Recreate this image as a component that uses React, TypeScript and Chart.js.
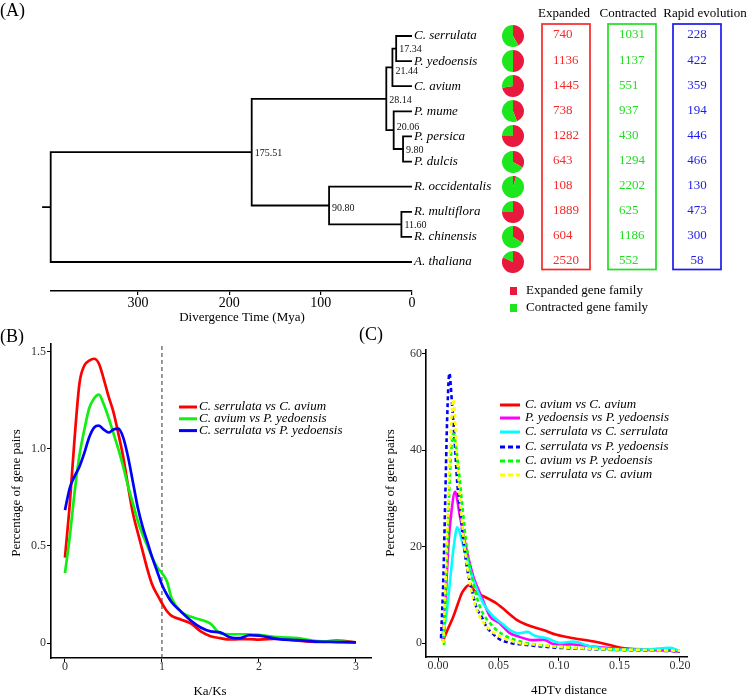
import React, { useEffect, useRef } from 'react';
import { Chart, registerables } from 'chart.js';

Chart.register(...registerables);

const SERIF = "'Liberation Serif', 'Times New Roman', serif";
Chart.defaults.font.family = SERIF;

// ---------------- Panel A data ----------------
const species = ['C. serrulata', 'P. yedoensis', 'C. avium', 'P. mume', 'P. persica', 'P. dulcis', 'R. occidentalis', 'R. multiflora', 'R. chinensis', 'A. thaliana'];
const expanded = [740, 1136, 1445, 738, 1282, 643, 108, 1889, 604, 2520];
const contracted = [1031, 1137, 551, 937, 430, 1294, 2202, 625, 1186, 552];
const rapidEvolution = [228, 422, 359, 194, 446, 466, 130, 473, 300, 58];
const tableHeaders = ['Expanded', 'Contracted', 'Rapid evolution'];
// internal nodes (divergence time, Mya) and their two children: tN = tip N, nN = internal node N
const nodeAges = [17.34, 21.44, 9.80, 20.06, 28.14, 11.60, 90.80, 175.51, 395.6];
const nodeChildren = [['t0', 't1'], ['n0', 't2'], ['t4', 't5'], ['t3', 'n2'], ['n1', 'n3'], ['t7', 't8'], ['t6', 'n5'], ['n4', 'n6'], ['n7', 't9']];
const rootStubAge = 405;
const timeTicks = [300, 200, 100, 0];
const pieLegend = ['Expanded gene family', 'Contracted gene family'];

// ---------------- Panel B data (Ka/Ks) ----------------
const kaksX = [0, 0.05, 0.1, 0.15, 0.2, 0.25, 0.3, 0.35, 0.4, 0.45, 0.5, 0.55, 0.6, 0.65, 0.7, 0.75, 0.8, 0.85, 0.9, 0.95, 1.0, 1.05, 1.1, 1.2, 1.3, 1.4, 1.5, 1.6, 1.7, 1.8, 1.9, 2.0, 2.2, 2.4, 2.6, 2.8, 3.0];
const kaksSerrAvium = [0.44, 0.72, 1.06, 1.34, 1.43, 1.455, 1.465, 1.44, 1.36, 1.27, 1.19, 1.08, 0.96, 0.81, 0.67, 0.57, 0.475, 0.38, 0.30, 0.25, 0.205, 0.165, 0.14, 0.12, 0.10, 0.06, 0.035, 0.025, 0.018, 0.02, 0.02, 0.017, 0.022, 0.012, 0.006, 0.012, 0.003];
const kaksAviumYed = [0.36, 0.55, 0.78, 0.97, 1.10, 1.21, 1.26, 1.28, 1.23, 1.16, 1.08, 1.00, 0.91, 0.81, 0.72, 0.63, 0.56, 0.50, 0.44, 0.39, 0.36, 0.32, 0.23, 0.16, 0.135, 0.12, 0.10, 0.05, 0.045, 0.045, 0.045, 0.042, 0.03, 0.025, 0.01, 0.008, 0.003];
const kaksSerrYed = [0.685, 0.80, 0.86, 0.91, 0.98, 1.06, 1.11, 1.12, 1.10, 1.085, 1.10, 1.105, 1.06, 0.96, 0.83, 0.70, 0.60, 0.52, 0.44, 0.37, 0.30, 0.25, 0.21, 0.16, 0.115, 0.08, 0.06, 0.055, 0.03, 0.025, 0.04, 0.038, 0.02, 0.015, 0.007, 0.005, 0.003];
const kaksLabels = ['C. serrulata vs C. avium', 'C. avium vs P. yedoensis', 'C. serrulata vs P. yedoensis'];
const kaksTicksX = [0, 1, 2, 3];
const kaksTicksY = [0, 0.5, 1.0, 1.5];
const kaksThreshold = 1;

// ---------------- Panel C data (4DTv) ----------------
const dtvAvAvX = [0.0039, 0.008, 0.0127, 0.0165, 0.0196, 0.0225, 0.0251, 0.028, 0.0306, 0.034, 0.0375, 0.043, 0.0485, 0.0525, 0.0568, 0.061, 0.065, 0.0733, 0.08, 0.087, 0.098, 0.112, 0.129, 0.14, 0.151, 0.167, 0.185, 0.2];
const dtvAvAvY = [0.3, 2.8, 5.5, 8.2, 10.3, 11.4, 12.0, 11.6, 10.7, 10.1, 9.7, 9.0, 8.2, 7.4, 6.5, 5.6, 4.8, 3.8, 3.2, 2.7, 1.7, 1.0, 0.3, -0.3, -1.0, -1.4, -1.5, -1.7];
const dtvYedYedX = [0.0039, 0.006, 0.0088, 0.011, 0.0141, 0.0182, 0.0237, 0.0292, 0.036, 0.043, 0.051, 0.059, 0.067, 0.078, 0.0873, 0.0956, 0.112, 0.13, 0.15, 0.17, 0.2];
const dtvYedYedY = [0.7, 8, 21, 27, 31.4, 26.2, 19.3, 13.8, 9.6, 5.5, 4.1, 2.1, 1.3, 0.6, 0.7, -0.2, -0.3, -0.8, -1.2, -1.3, -1.7];
const dtvSerSerX = [0.003, 0.007, 0.010, 0.013, 0.016, 0.020, 0.0245, 0.0292, 0.0375, 0.0458, 0.054, 0.060, 0.066, 0.074, 0.080, 0.090, 0.101, 0.112, 0.126, 0.153, 0.175, 0.192, 0.2];
const dtvSerSerY = [1, 6, 13, 20, 24, 21, 17, 13.1, 8.2, 5.5, 3.8, 2.6, 2.0, 2.3, 1.5, 1.0, 0, 0.3, -0.7, -1.4, -1.3, -1.0, -1.7];
const dtvSerYedX = [0.0025, 0.0045, 0.006, 0.0075, 0.0094, 0.0115, 0.0135, 0.016, 0.0185, 0.021, 0.024, 0.028, 0.032, 0.036, 0.040, 0.045, 0.050, 0.060, 0.070, 0.085, 0.100, 0.120, 0.140, 0.160, 0.180, 0.200];
const dtvSerYedY = [1, 14, 30, 46, 56, 50, 43, 33, 27, 21, 15.5, 11, 7.2, 5.5, 3.4, 2.0, 0.9, 0, -0.3, -0.7, -1.0, -1.2, -1.4, -1.5, -1.6, -1.7];
const dtvAvYedX = [0.005, 0.0065, 0.0085, 0.0105, 0.0127, 0.0168, 0.0196, 0.0237, 0.0292, 0.0347, 0.043, 0.054, 0.067, 0.08, 0.1, 0.12, 0.14, 0.16, 0.18, 0.2];
const dtvAvYedY = [-0.4, 10, 26, 38, 43.5, 36.6, 29.7, 20, 12.4, 7.5, 4.1, 1.7, 0.4, -0.3, -0.8, -1.1, -1.3, -1.4, -1.5, -1.6];
const dtvSerAvX = [0.0044, 0.0072, 0.0099, 0.0127, 0.0154, 0.0182, 0.0223, 0.0264, 0.032, 0.0403, 0.051, 0.067, 0.08, 0.1, 0.12, 0.14, 0.16, 0.18, 0.2];
const dtvSerAvY = [0, 19.3, 40, 50.6, 40, 29.7, 19.3, 12.4, 6.9, 3.4, 1.4, 0, -0.3, -0.8, -1.1, -1.3, -1.4, -1.5, -1.6];
const dtvLabels = ['C. avium vs C. avium', 'P. yedoensis vs P. yedoensis', 'C. serrulata vs C. serrulata', 'C. serrulata vs P. yedoensis', 'C. avium vs P. yedoensis', 'C. serrulata vs C. avium'];
const dtvTicksX = [0, 0.05, 0.1, 0.15, 0.2];
const dtvTicksY = [0, 20, 40, 60];

// ---------------- styles ----------------
const PIE_RED = '#E8193C';
const PIE_GREEN = '#1EE61E';
const T_RED = '#F52A2A';
const T_GREEN = '#22DD22';
const T_BLUE = '#1C1CEB';
const PIE_R = 11;
const TICK_GREY = '#333333';
// small vertical nudges of node-age labels (px), as placed in the figure
const nodeLabelNudge = [0, 3, 0, -4, 1, 0, 1.5, 0, 0];

function txt(ctx: CanvasRenderingContext2D, s: string, x: number, y: number, font: string, color = '#000', align: CanvasTextAlign = 'left') {
  ctx.font = font;
  ctx.fillStyle = color;
  ctx.textAlign = align;
  ctx.textBaseline = 'middle';
  ctx.fillText(s, x, y);
}
function vtxt(ctx: CanvasRenderingContext2D, s: string, x: number, y: number, font: string) {
  ctx.save();
  ctx.translate(x, y);
  ctx.rotate(-Math.PI / 2);
  txt(ctx, s, 0, 0, font, '#000', 'center');
  ctx.restore();
}
function legendLine(ctx: CanvasRenderingContext2D, x0: number, x1: number, y: number, color: string, dash: number[]) {
  ctx.save();
  ctx.strokeStyle = color;
  ctx.lineWidth = 3;
  ctx.setLineDash(dash);
  ctx.lineCap = 'butt';
  ctx.beginPath();
  ctx.moveTo(x0, y);
  ctx.lineTo(x1, y);
  ctx.stroke();
  ctx.restore();
}

// tree geometry derived from the node table
const nodeY: number[] = [];
function refPos(ref: string) {
  const k = +ref.slice(1);
  return ref[0] === 't' ? { x: 0, y: k } : { x: nodeAges[k], y: nodeY[k] };
}
nodeChildren.forEach((kids, n) => {
  nodeY[n] = (refPos(kids[0]).y + refPos(kids[1]).y) / 2;
});
const treeSegments: { x: number; y: number | null }[] = [];
nodeChildren.forEach((kids, n) => {
  kids.forEach((ref) => {
    const c = refPos(ref);
    treeSegments.push({ x: nodeAges[n], y: nodeY[n] }, { x: nodeAges[n], y: c.y }, { x: c.x, y: c.y }, { x: c.x, y: null });
  });
});
const rootIdx = nodeAges.length - 1;
treeSegments.push({ x: nodeAges[rootIdx], y: nodeY[rootIdx] }, { x: rootStubAge, y: nodeY[rootIdx] });

const fixedTicks = (vals: number[]) => (s: any) => {
  s.ticks = vals.map((v) => ({ value: v }));
};

export default function App() {
  const treeRef = useRef<HTMLCanvasElement>(null);
  const pieRefs = useRef<(HTMLCanvasElement | null)[]>([]);
  const bRef = useRef<HTMLCanvasElement>(null);
  const cRef = useRef<HTMLCanvasElement>(null);

  useEffect(() => {
    document.body.style.margin = '0';
    const charts: Chart[] = [];

    // ---------- Panel A: tree ----------
    const treePlugin = {
      id: 'treeText',
      afterDraw(chart: any) {
        const { ctx, scales } = chart;
        const x = scales.x;
        const y = scales.y;
        ctx.save();
        txt(ctx, '(A)', 0, 11, `18px ${SERIF}`);
        const tipX = x.getPixelForValue(0);
        species.forEach((s, i) => txt(ctx, s, tipX + 2, y.getPixelForValue(i), `italic 13px ${SERIF}`));
        nodeAges.forEach((age, n) => {
          if (n === rootIdx) return;
          txt(ctx, age.toFixed(2), x.getPixelForValue(age) + 3, y.getPixelForValue(nodeY[n]) + 1 + nodeLabelNudge[n], `10px ${SERIF}`, '#111');
        });
        // table
        const top = y.getPixelForValue(0) - 12;
        const bottom = y.getPixelForValue(species.length - 1) + 7.5;
        const cols = [
          { l: 542, r: 590, color: T_RED, vals: expanded, align: 'left' as CanvasTextAlign, tx: 553, hx: 564 },
          { l: 608, r: 656, color: T_GREEN, vals: contracted, align: 'left' as CanvasTextAlign, tx: 619, hx: 628 },
          { l: 673, r: 721, color: T_BLUE, vals: rapidEvolution, align: 'center' as CanvasTextAlign, tx: 697, hx: 705 },
        ];
        cols.forEach((c, ci) => {
          txt(ctx, tableHeaders[ci], c.hx, 14, `13px ${SERIF}`, '#000', 'center');
          ctx.strokeStyle = c.color;
          ctx.lineWidth = 1.7;
          ctx.strokeRect(c.l, top, c.r - c.l, bottom - top);
          c.vals.forEach((v, i) => txt(ctx, String(v), c.tx, y.getPixelForValue(i) - 1, `13px ${SERIF}`, c.color, c.align));
        });
        // pie legend
        [PIE_RED, PIE_GREEN].forEach((col, k) => {
          const cy = 291 + k * 17;
          ctx.fillStyle = col;
          ctx.fillRect(510, cy - 4, 7, 8);
          txt(ctx, pieLegend[k], 526, cy, `13px ${SERIF}`);
        });
        txt(ctx, 'Divergence Time (Mya)', 242, 318, `13px ${SERIF}`, '#000', 'center');
        ctx.restore();
      },
    };

    const tree = new Chart(treeRef.current!, {
      type: 'line',
      data: {
        datasets: [
          {
            data: treeSegments as any,
            borderColor: '#000',
            borderWidth: 1.8,
            pointRadius: 0,
            spanGaps: false,
            tension: 0,
            clip: false as any,
          },
        ],
      },
      options: {
        animation: false,
        responsive: false,
        events: [],
        layout: { padding: { left: 50.7, right: 337, top: 23, bottom: 0 } },
        plugins: { legend: { display: false }, tooltip: { enabled: false } },
        scales: {
          x: {
            type: 'linear',
            reverse: true,
            min: 0,
            max: nodeAges[rootIdx],
            afterFit: (s: any) => {
              s.height = 330 - 291;
            },
            afterBuildTicks: fixedTicks(timeTicks),
            ticks: { font: { size: 14, family: SERIF }, color: '#000', padding: 0, maxRotation: 0 },
            grid: { drawOnChartArea: false, tickLength: 4, color: '#000', lineWidth: 1.2 },
            border: { color: '#000', width: 1.6 },
          },
          y: { display: false, reverse: true, min: -0.5177, max: 10.155 },
        },
      },
      plugins: [treePlugin],
    });
    charts.push(tree);

    pieRefs.current.forEach((cv, i) => {
      if (!cv) return;
      cv.style.top = `${tree.scales.y.getPixelForValue(i) - PIE_R}px`;
      charts.push(
        new Chart(cv, {
          type: 'pie',
          data: {
            labels: pieLegend,
            datasets: [{ data: [expanded[i], contracted[i]], backgroundColor: [PIE_RED, PIE_GREEN], borderWidth: 0 }],
          },
          options: {
            animation: false,
            responsive: false,
            events: [],
            layout: { padding: 0 },
            plugins: { legend: { display: false }, tooltip: { enabled: false } },
          },
        })
      );
    });

    // ---------- Panel B ----------
    const bColors = ['#FF0000', '#11EE11', '#0000FF'];
    const bSeries = [kaksSerrAvium, kaksAviumYed, kaksSerrYed];
    const bYMin = -0.0773;
    const bYMax = 1.541;
    const bPlugin = {
      id: 'bText',
      afterDraw(chart: any) {
        const { ctx } = chart;
        ctx.save();
        txt(ctx, '(B)', 0, 12, `18px ${SERIF}`);
        txt(ctx, 'Ka/Ks', 210, 367, `13px ${SERIF}`, '#000', 'center');
        vtxt(ctx, 'Percentage of gene pairs', 17, 168, `13px ${SERIF}`);
        kaksLabels.forEach((l, i) => {
          const yy = 82 + i * 11.8;
          legendLine(ctx, 179, 197, yy, bColors[i], []);
          txt(ctx, l, 199, yy, `italic 13px ${SERIF}`);
        });
        ctx.restore();
      },
    };
    charts.push(
      new Chart(bRef.current!, {
        type: 'line',
        data: {
          datasets: [
            ...bSeries.map((ys, i) => ({
              label: kaksLabels[i],
              data: kaksX.map((x, j) => ({ x, y: ys[j] })),
              borderColor: bColors[i],
              borderWidth: 2.7,
              pointRadius: 0,
              tension: 0.4,
              cubicInterpolationMode: 'monotone' as const,
              order: -i,
            })),
            {
              label: 'threshold',
              data: [
                { x: kaksThreshold, y: bYMin },
                { x: kaksThreshold, y: bYMax },
              ],
              borderColor: '#333',
              borderWidth: 1,
              borderDash: [4, 3],
              pointRadius: 0,
              order: 10,
            },
          ],
        },
        options: {
          animation: false,
          responsive: false,
          events: [],
          layout: { padding: { top: 19, right: 3, left: 0, bottom: 0 } },
          plugins: { legend: { display: false }, tooltip: { enabled: false } },
          scales: {
            x: {
              type: 'linear',
              min: -0.144,
              max: 3.155,
              afterFit: (s: any) => {
                s.height = 39;
              },
              afterBuildTicks: fixedTicks(kaksTicksX),
              ticks: { font: { size: 12, family: SERIF }, color: TICK_GREY, padding: -2, maxRotation: 0 },
              grid: { drawOnChartArea: false, tickLength: 4, color: '#000' },
              border: { color: '#000', width: 1.6 },
            },
            y: {
              min: bYMin,
              max: bYMax,
              afterFit: (s: any) => {
                s.width = 51;
              },
              afterBuildTicks: fixedTicks(kaksTicksY),
              ticks: {
                font: { size: 12, family: SERIF },
                color: TICK_GREY,
                padding: 1,
                callback: (v: any) => (Number(v) === 0 ? '0' : Number(v).toFixed(1)),
              },
              grid: { drawOnChartArea: false, tickLength: 4, color: '#000' },
              border: { color: '#000', width: 1.6 },
            },
          },
        },
        plugins: [bPlugin],
      })
    );

    // ---------- Panel C ----------
    const cSeries = [
      { x: dtvAvAvX, y: dtvAvAvY, color: '#FF0000', dash: [] as number[] },
      { x: dtvYedYedX, y: dtvYedYedY, color: '#FF00FF', dash: [] as number[] },
      { x: dtvSerSerX, y: dtvSerSerY, color: '#00FFFF', dash: [] as number[] },
      { x: dtvSerYedX, y: dtvSerYedY, color: '#0000FF', dash: [4, 3] },
      { x: dtvAvYedX, y: dtvAvYedY, color: '#00FF00', dash: [4, 3] },
      { x: dtvSerAvX, y: dtvSerAvY, color: '#FFFF00', dash: [4, 3] },
    ];
    const cPlugin = {
      id: 'cText',
      afterDraw(chart: any) {
        const { ctx } = chart;
        ctx.save();
        txt(ctx, '(C)', 4, 10, `18px ${SERIF}`);
        txt(ctx, '4DTv distance', 214, 366, `13px ${SERIF}`, '#000', 'center');
        vtxt(ctx, 'Percentage of gene pairs', 36, 168, `13px ${SERIF}`);
        const ly = [80, 93, 107, 122, 136, 150];
        dtvLabels.forEach((l, i) => {
          legendLine(ctx, 145, 165, ly[i], cSeries[i].color, cSeries[i].dash.length ? [5, 3] : []);
          txt(ctx, l, 170, ly[i], `italic 13px ${SERIF}`);
        });
        ctx.restore();
      },
    };
    charts.push(
      new Chart(cRef.current!, {
        type: 'line',
        data: {
          datasets: cSeries.map((s, i) => ({
            label: dtvLabels[i],
            data: s.x.map((x, j) => ({ x, y: s.y[j] })),
            borderColor: s.color,
            borderWidth: 2.6,
            borderDash: s.dash,
            pointRadius: 0,
            tension: 0.4,
            cubicInterpolationMode: 'monotone' as const,
            order: -i,
          })),
        },
        options: {
          animation: false,
          responsive: false,
          events: [],
          layout: { padding: { top: 25, right: 62, left: 0, bottom: 0 } },
          plugins: { legend: { display: false }, tooltip: { enabled: false } },
          scales: {
            x: {
              type: 'linear',
              min: -0.00992,
              max: 0.2058,
              afterFit: (s: any) => {
                s.height = 40;
              },
              afterBuildTicks: fixedTicks(dtvTicksX),
              ticks: {
                font: { size: 12, family: SERIF },
                color: TICK_GREY,
                padding: -2,
                maxRotation: 0,
                callback: (v: any) => Number(v).toFixed(2),
              },
              grid: { drawOnChartArea: false, tickLength: 4, color: '#000' },
              border: { color: '#000', width: 1.6 },
            },
            y: {
              min: -2.906,
              max: 60.83,
              afterFit: (s: any) => {
                s.width = 71;
              },
              afterBuildTicks: fixedTicks(dtvTicksY),
              ticks: { font: { size: 12, family: SERIF }, color: TICK_GREY, padding: 0 },
              grid: { drawOnChartArea: false, tickLength: 4, color: '#000' },
              border: { color: '#000', width: 1.6 },
            },
          },
        },
        plugins: [cPlugin],
      })
    );

    return () => charts.forEach((c) => c.destroy());
  }, []);

  return (
    <div style={{ position: 'relative', width: 749, height: 697, background: '#fff', overflow: 'hidden' }}>
      <canvas ref={treeRef} width={749} height={330} style={{ position: 'absolute', left: 0, top: 0 }} />
      {species.map((s, i) => (
        <canvas
          key={s}
          ref={(el) => {
            pieRefs.current[i] = el;
          }}
          width={PIE_R * 2}
          height={PIE_R * 2}
          style={{ position: 'absolute', left: 513 - PIE_R, top: 0 }}
        />
      ))}
      <canvas ref={bRef} width={374} height={372} style={{ position: 'absolute', left: 0, top: 325 }} />
      <canvas ref={cRef} width={394} height={372} style={{ position: 'absolute', left: 355, top: 325 }} />
    </div>
  );
}
